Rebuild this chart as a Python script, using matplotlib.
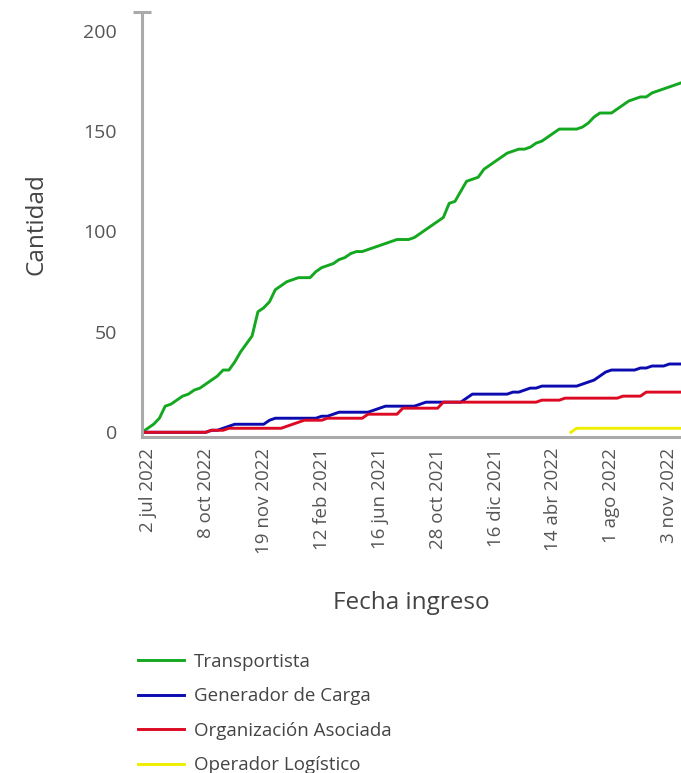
import matplotlib
matplotlib.use("Agg")
import matplotlib.pyplot as plt
import numpy as np

plt.rcParams["font.family"] = ["Open Sans", "DejaVu Sans"]

# x axis is categorical: one slot per registration date (only some are labelled)
n_dates = 94
tick_idx = [1, 11, 21, 31, 41, 51, 61, 71, 81, 91]
tick_labels = ["2 jul 2022", "8 oct 2022", "19 nov 2022", "12 feb 2021",
               "16 jun 2021", "28 oct 2021", "16 dic 2021", "14 abr 2022",
               "1 ago 2022", "3 nov 2022"]

transportista = [
    0, 2, 4, 7, 13, 14, 16, 18, 19, 21,
    22, 24, 26, 28, 31, 31, 35, 40, 44, 48,
    60, 62, 65, 71, 73, 75, 76, 77, 77, 77,
    80, 82, 83, 84, 86, 87, 89, 90, 90, 91,
    92, 93, 94, 95, 96, 96, 96, 97, 99, 101,
    103, 105, 107, 114, 115, 120, 125, 126, 127, 131,
    133, 135, 137, 139, 140, 141, 141, 142, 144, 145,
    147, 149, 151, 151, 151, 151, 152, 154, 157, 159,
    159, 159, 161, 163, 165, 166, 167, 167, 169, 170,
    171, 172, 173, 174,
]
generador = [
    0, 0, 0, 0, 0, 0, 0, 0, 0, 0,
    0, 0, 1, 1, 2, 3, 4, 4, 4, 4,
    4, 4, 6, 7, 7, 7, 7, 7, 7, 7,
    7, 8, 8, 9, 10, 10, 10, 10, 10, 10,
    11, 12, 13, 13, 13, 13, 13, 13, 14, 15,
    15, 15, 15, 15, 15, 15, 17, 19, 19, 19,
    19, 19, 19, 19, 20, 20, 21, 22, 22, 23,
    23, 23, 23, 23, 23, 23, 24, 25, 26, 28,
    30, 31, 31, 31, 31, 31, 32, 32, 33, 33,
    33, 34, 34, 34,
]
organizacion = [
    0, 0, 0, 0, 0, 0, 0, 0, 0, 0,
    0, 0, 1, 1, 1, 2, 2, 2, 2, 2,
    2, 2, 2, 2, 2, 3, 4, 5, 6, 6,
    6, 6, 7, 7, 7, 7, 7, 7, 7, 9,
    9, 9, 9, 9, 9, 12, 12, 12, 12, 12,
    12, 12, 15, 15, 15, 15, 15, 15, 15, 15,
    15, 15, 15, 15, 15, 15, 15, 15, 15, 16,
    16, 16, 16, 17, 17, 17, 17, 17, 17, 17,
    17, 17, 17, 18, 18, 18, 18, 20, 20, 20,
    20, 20, 20, 20,
]
operador = [np.nan] * 74 + [0] + [2] * 19

series = [
    ("Transportista", transportista, "#14a821"),
    ("Generador de Carga", generador, "#0b0bb0"),
    ("Organización Asociada", organizacion, "#dc0a22"),
    ("Operador Logístico", operador, "#f0ee00"),
]

fig = plt.figure(figsize=(6.81, 7.73), dpi=100)
ax = fig.add_axes([142 / 681, 1 - 436.7 / 773, 1 - 142 / 681, (436.7 - 12) / 773])

x = np.arange(n_dates)
for name, vals, color in series:
    ax.plot(x, vals, color=color, lw=2.1, label=name)

ax.set_xlim(0, n_dates - 1)
ax.set_ylim(-2.2, 209.3)

for s in ["top", "right"]:
    ax.spines[s].set_visible(False)
for s in ["left", "bottom"]:
    ax.spines[s].set_color("#aaaaaa")
    ax.spines[s].set_linewidth(2.2)

ax.set_yticks([0, 50, 100, 150, 200])
ax.set_yticks([209.3], minor=True)
ax.tick_params(axis="y", which="major", length=0, pad=18, labelsize=14,
               labelcolor="#555555")
ax.tick_params(axis="y", which="minor", length=13.5, width=2.2,
               direction="inout", color="#aaaaaa")
ax.set_xticks(tick_idx)
ax.set_xticklabels(tick_labels, rotation=90)
ax.tick_params(axis="x", length=0, pad=8, labelsize=13.5, labelcolor="#555555")

ax.set_ylabel("Cantidad", fontsize=17.5, color="#444444", labelpad=25)
ax.set_xlabel("Fecha ingreso", fontsize=17.5, color="#444444", labelpad=27)

ax.legend(loc="upper left", bbox_to_anchor=(121 / 681, 1 - 636 / 773),
          bbox_transform=fig.transFigure, frameon=False, fontsize=13.5,
          handlelength=2.45, handletextpad=0.53, labelspacing=0.88,
          labelcolor="#444444")

fig.savefig("out.png", dpi=100)
